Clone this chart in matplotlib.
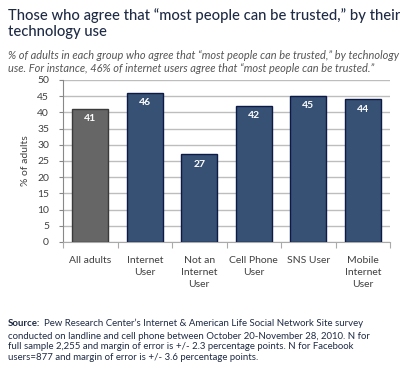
import matplotlib
matplotlib.use("Agg")
import matplotlib.pyplot as plt
import numpy as np

categories = ["All adults", "Internet\nUser", "Not an\nInternet\nUser", "Cell Phone\nUser", "SNS User", "Mobile\nInternet\nUser"]
values = [41, 46, 27, 42, 45, 44]
yticks = [0, 5, 10, 15, 20, 25, 30, 35, 40, 45, 50]

plt.rcParams['font.family'] = ['Lato', 'DejaVu Sans']

fig = plt.figure(figsize=(4, 3.7), dpi=100)
ax = fig.add_axes([0.1575, 0.346, 0.8175, 0.438])

x = np.arange(len(categories))
colors = ["#666666"] + ["#375175"] * (len(categories) - 1)
edges = ["#3a3a3a"] + ["#0d1a45"] * (len(categories) - 1)
bars = ax.bar(x, values, width=0.66, color=colors, edgecolor=edges, linewidth=1.0, zorder=3)
for xi, v in zip(x, values):
    ax.text(xi, v - 1.6, str(v), ha='center', va='top', color='white', fontsize=7.5,
            fontweight='bold', zorder=4)

ax.set_xlim(-0.5, len(categories) - 0.5)
ax.set_ylim(0, 50)
ax.set_yticks(yticks)
ax.tick_params(axis='y', labelsize=7.5, colors='#404040', length=3, color='#888888', pad=7)
ax.set_xticks(np.arange(len(categories) + 1) - 0.5, minor=False)
ax.set_xticklabels([])
ax.set_xticks(x, minor=True)
ax.set_xticklabels(categories, minor=True, fontsize=7.5, color='#404040', linespacing=1.45)
ax.tick_params(axis='x', which='major', length=4, color='#aaaaaa')
ax.tick_params(axis='x', which='minor', length=0, pad=10)
ax.grid(axis='y', color='#bdbdbd', linewidth=1.0, zorder=0)
for s in ['top', 'right']:
    ax.spines[s].set_visible(False)
ax.spines['left'].set_color('#888888')
ax.spines['bottom'].set_color('#aaaaaa')
ax.set_ylabel("% of adults", fontsize=7.5, color='#404040', labelpad=5)

fig.text(0.02, 0.977, "Those who agree that \u201cmost people can be trusted,\u201d by their\ntechnology use",
         fontsize=10.6, color='#1f2b45', ha='left', va='top', linespacing=1.12, fontweight='medium')
fig.text(0.02, 0.864, "% of adults in each group who agree that \u201cmost people can be trusted,\u201d by technology\nuse. For instance, 46% of internet users agree that \u201cmost people can be trusted.\u201d",
         fontsize=7.9, color='#555555', style='italic', ha='left', va='top', linespacing=1.15)

src_y = 0.138
t = fig.text(0.02, src_y, "Source:", fontsize=6.9, color='#1f2b45', fontweight='bold', ha='left', va='top')
fig.canvas.draw()
bb = t.get_window_extent(renderer=fig.canvas.get_renderer())
x_after = (bb.x1 + 4) / fig.bbox.width
fig.text(x_after, src_y, "Pew Research Center\u2019s Internet & American Life Social Network Site survey",
         fontsize=6.9, color='#1f2b45', ha='left', va='top')
fig.text(0.02, src_y - 0.034,
         "conducted on landline and cell phone between October 20-November 28, 2010. N for\n"
         "full sample 2,255 and margin of error is +/- 2.3 percentage points. N for Facebook\n"
         "users=877 and margin of error is +/- 3.6 percentage points.",
         fontsize=6.9, color='#1f2b45', ha='left', va='top', linespacing=1.25)

fig.savefig("out.png", dpi=100)
